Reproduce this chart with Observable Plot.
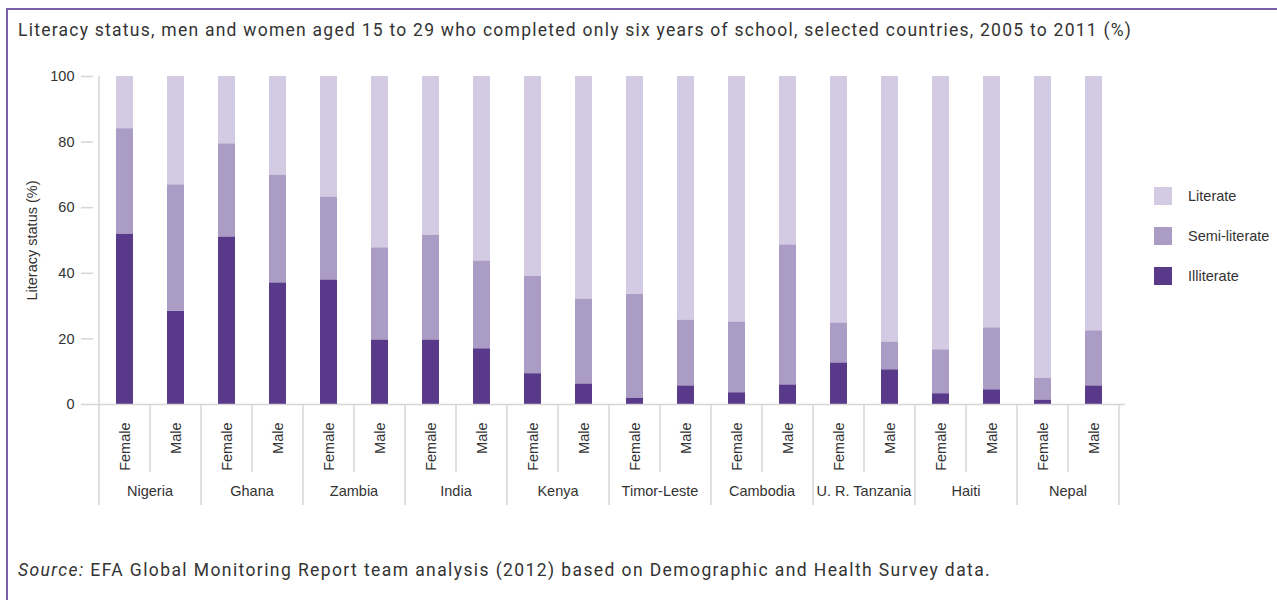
<!DOCTYPE html>
<html>
<head>
<meta charset="utf-8">
<script src="https://cdn.jsdelivr.net/npm/d3@7"></script>
<script src="https://cdn.jsdelivr.net/npm/@observablehq/plot@0.6"></script>
<style>
  body { margin: 0; background: #fff; }
  #wrap { position: relative; width: 1277px; height: 600px; overflow: hidden; background: #fff; }
  #frame { position: absolute; left: 6px; top: 8px; right: -10px; bottom: -10px;
           border-left: 2px solid #7a5ea8; border-top: 2px solid #7a5ea8; }
  #title { position: absolute; left: 18px; top: 18px; font-family: Roboto, sans-serif; font-size: 17.5px;
           letter-spacing: 1.25px; line-height: 24px; color: #333; white-space: nowrap; }
  #chart { position: absolute; left: 0; top: 0; }
  #legend { position: absolute; left: 1154px; top: 187px; white-space: nowrap;
            font-family: "Liberation Sans", Arial, sans-serif; font-size: 14.5px; color: #333; }
  .item { display: flex; align-items: center; height: 18px; margin-bottom: 22px; }
  .sw { width: 18px; height: 18px; margin-right: 16px; flex: none; }
  #source { position: absolute; left: 18px; top: 558px; font-family: Roboto, sans-serif; font-size: 17.5px;
            letter-spacing: 1.4px; line-height: 24px; color: #333; white-space: nowrap; }
</style>
</head>
<body>
<div id="wrap">
  <div id="frame"></div>
  <div id="title"></div>
  <div id="chart"></div>
  <div id="legend"></div>
  <div id="source"><i>Source:</i> EFA Global Monitoring Report team analysis (2012) based on Demographic and Health Survey data.</div>
</div>
<script>
const titleText = "Literacy status, men and women aged 15 to 29 who completed only six years of school, selected countries, 2005 to 2011 (%)";
const yLabel = "Literacy status (%)";
const countries = ["Nigeria", "Ghana", "Zambia", "India", "Kenya", "Timor-Leste", "Cambodia", "U. R. Tanzania", "Haiti", "Nepal"];
const sexes = ["Female", "Male"];
const statuses = ["Illiterate", "Semi-literate", "Literate"];
const statusColors = ["#58398a", "#ab9cc5", "#d3cbe3"];
const legendOrder = ["Literate", "Semi-literate", "Illiterate"];
const yTicks = [0, 20, 40, 60, 80, 100];

// values per country × sex (Female, Male), in %
const illiterate   = [52.0, 28.4, 51.1, 37.1, 38.0, 19.7, 19.7, 17.0, 9.4, 6.3, 2.0, 5.7, 3.6, 6.0, 12.7, 10.6, 3.3, 4.5, 1.4, 5.7];
const semiLiterate = [32.1, 38.6, 28.4, 32.9, 25.3, 28.1, 32.0, 26.8, 29.8, 25.9, 31.7, 20.1, 21.6, 42.7, 12.2, 8.5, 13.4, 18.9, 6.7, 16.8];
const literate     = [15.9, 33.0, 20.5, 30.0, 36.7, 52.2, 48.3, 56.2, 60.8, 67.8, 66.3, 74.2, 74.8, 51.3, 75.1, 80.9, 83.3, 76.6, 91.9, 77.5];

const AXISFONT = '"Liberation Sans", Arial, sans-serif';
const FS = 14.5;
const GRID = "#d6d6d6";

document.getElementById("title").textContent = titleText;

const keys = countries.flatMap(c => sexes.map(s => c + "|" + s));
const series = [illiterate, semiLiterate, literate];
const rows = [];
keys.forEach((k, i) => {
  statuses.forEach((st, j) => rows.push({key: k, status: st, value: series[j][i]}));
});

function dividers(index, scales) {
  const x = scales.x, y = scales.y, bw = x.bandwidth();
  const y0 = y(0), yTop = y(100);
  const g = d3.create("svg:g");
  const lines = g.append("g").attr("stroke", GRID).attr("stroke-width", 1.5);
  const x0 = x(keys[0]);
  lines.append("line").attr("x1", x0).attr("x2", x0).attr("y1", yTop).attr("y2", y0);
  keys.forEach((k, i) => {
    const xl = x(k);
    lines.append("line").attr("x1", xl).attr("x2", xl).attr("y1", y0).attr("y2", y0 + (i % 2 === 0 ? 101 : 68));
  });
  const xr = x(keys[keys.length - 1]) + bw;
  lines.append("line").attr("x1", xr).attr("x2", xr).attr("y1", y0).attr("y2", y0 + 101);
  const t = g.append("g").attr("fill", "#333").attr("text-anchor", "middle")
    .attr("font-family", AXISFONT).attr("font-size", FS);
  countries.forEach(c => {
    t.append("text").attr("x", x(c + "|Female") + bw).attr("y", y0 + 92).text(c);
  });
  return g.node();
}

const chart = Plot.plot({
  width: 1277,
  height: 510,
  marginTop: 76,
  marginBottom: 106,
  marginLeft: 93,
  marginRight: 152,
  style: {fontFamily: AXISFONT, fontSize: FS + "px", color: "#333", background: "transparent", overflow: "visible"},
  x: {domain: keys, padding: 0, axis: null},
  y: {domain: [0, 100], axis: null},
  color: {domain: statuses, range: statusColors},
  marks: [
    Plot.barY(rows, {x: "key", y: "value", fill: "status", insetLeft: 17, insetRight: 17}),
    Plot.ruleY([0], {stroke: GRID, strokeWidth: 1.5}),
    Plot.axisY({ticks: yTicks, tickSize: 12, tickPadding: 7, stroke: GRID, strokeWidth: 1.5,
                label: yLabel, labelAnchor: "center", labelOffset: 67, labelArrow: "none", fontSize: FS}),
    Plot.axisX({tickSize: 0, tickPadding: 18, tickRotate: -90, tickFormat: k => k.split("|")[1], label: null, fontSize: FS}),
    dividers
  ]
});
document.getElementById("chart").appendChild(chart);

const legend = document.getElementById("legend");
legendOrder.forEach(st => {
  const item = document.createElement("div");
  item.className = "item";
  const sw = document.createElement("div");
  sw.className = "sw";
  sw.style.background = statusColors[statuses.indexOf(st)];
  const lab = document.createElement("span");
  lab.textContent = st;
  item.appendChild(sw);
  item.appendChild(lab);
  legend.appendChild(item);
});
</script>
</body>
</html>
